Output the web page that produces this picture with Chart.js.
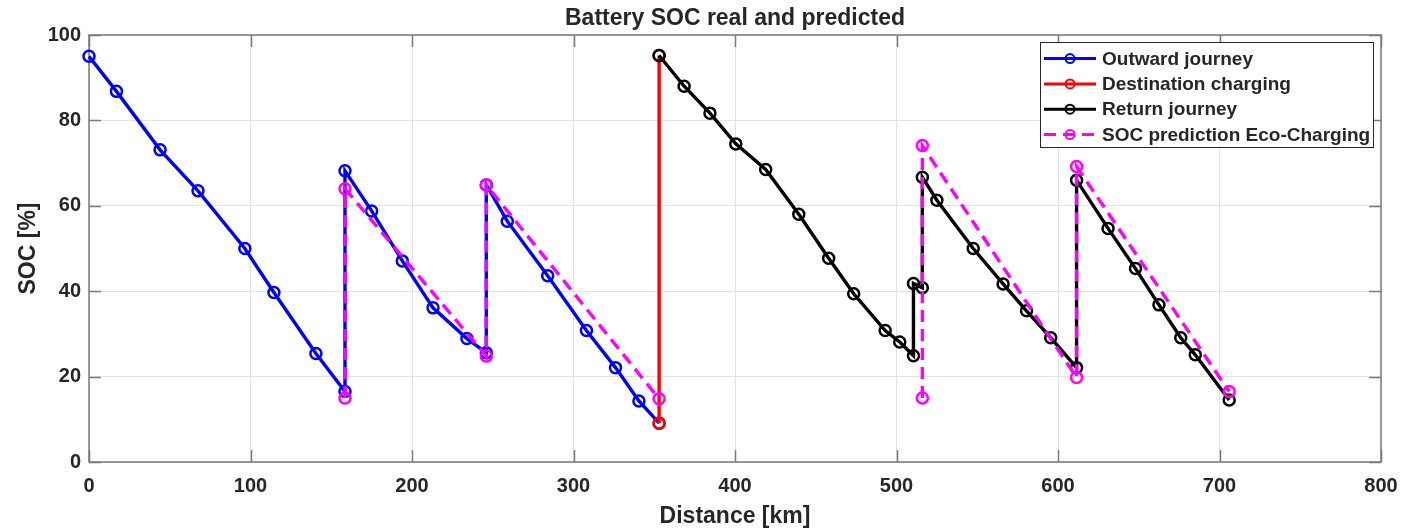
<!DOCTYPE html>
<html>
<head>
<meta charset="utf-8">
<script src="https://cdn.jsdelivr.net/npm/chart.js@4.4.1/dist/chart.umd.min.js"></script>
<style>
  html, body { margin: 0; padding: 0; background: #ffffff; }
  #wrap { width: 1427px; height: 532px; }
</style>
</head>
<body>
<div id="wrap"><canvas id="soc" width="1427" height="532"></canvas></div>
<script>
// values
const outwardKm = [0, 17, 44, 67.5, 96.5, 114.5, 140.5, 158.5, 158.5, 175, 194, 213, 234, 246, 246, 259, 284, 308, 326, 340.5, 353];
const outwardSoc = [95, 86.8, 73.1, 63.5, 50, 39.7, 25.4, 16.5, 68.2, 58.8, 47.1, 36.1, 28.9, 25.6, 64.9, 56.4, 43.6, 30.8, 22.1, 14.3, 9.1];

const chargeKm = [353, 353];
const chargeSoc = [9.1, 95.2];

const returnKm = [353, 368.5, 384.5, 400.5, 419, 439.5, 458, 473.5, 493, 502, 510.5, 510.5, 516, 516, 525, 547.5, 566, 580.5, 595.5, 611.5, 611.5, 631, 648, 662.5, 676, 685, 706];
const returnSoc = [95.2, 88, 81.7, 74.5, 68.5, 58, 47.7, 39.4, 30.8, 28.1, 24.9, 41.8, 40.8, 66.7, 61.3, 50, 41.7, 35.4, 29.1, 22.1, 66, 54.7, 45.3, 36.8, 29.1, 25.1, 14.5];

// null = break in the prediction line
const predKm = [158.5, 158.5, 246, 246, 353, null, 516, 516, 611.5, 611.5, 706];
const predSoc = [15, 64, 24.8, 64.9, 14.8, null, 15, 74.1, 19.8, 69.2, 16.5];

const seriesLabels = ['Outward journey', 'Destination charging', 'Return journey', 'SOC prediction Eco-Charging'];
const xTicks = [0, 100, 200, 300, 400, 500, 600, 700, 800];
const yTicks = [0, 20, 40, 60, 80, 100];

const FONT = "'Liberation Sans', Arial, Helvetica, sans-serif";
const TXT = '#262626';

function pts(xs, ys) {
    return xs.map((x, i) => ({ x: x, y: ys[i] }));
}

function series(label, xs, ys, color, order, dash) {
    return {
        label: label,
        data: pts(xs, ys),
        borderColor: color,
        backgroundColor: color,
        borderWidth: 3.4,
        borderDash: dash || [],
        pointRadius: 5.5,
        pointBorderWidth: 2.5,
        pointBorderColor: color,
        pointBackgroundColor: 'rgba(0,0,0,0)',
        pointStyle: 'circle',
        tension: 0,
        spanGaps: false,
        clip: false,
        order: order,
    };
}

// box round the plot with inward ticks, like the matlab axes
const boxPlugin = {
    id: 'box',
    beforeDatasetsDraw(chart) {
        const { ctx, chartArea: a, scales } = chart;
        ctx.save();
        ctx.strokeStyle = '#7a7a7a';
        ctx.lineWidth = 1.5;
        ctx.strokeRect(a.left, a.top, a.right - a.left, a.bottom - a.top);
        ctx.beginPath();
        xTicks.forEach((v) => {
            const px = Math.round(scales.x.getPixelForValue(v)) + 0.5;
            ctx.moveTo(px, a.bottom); ctx.lineTo(px, a.bottom - 12);
            ctx.moveTo(px, a.top); ctx.lineTo(px, a.top + 12);
        });
        yTicks.forEach((v) => {
            const py = Math.round(scales.y.getPixelForValue(v)) + 0.5;
            ctx.moveTo(a.left, py); ctx.lineTo(a.left + 12, py);
            ctx.moveTo(a.right, py); ctx.lineTo(a.right - 12, py);
        });
        ctx.stroke();
        ctx.restore();
    },
};

// legend with line + circle samples
const legendPlugin = {
    id: 'lineLegend',
    afterDraw(chart) {
        const { ctx, chartArea: a } = chart;
        const w = 333, h = 105;
        const left = a.right - 8 - w;
        const top = a.top + 7;
        ctx.save();
        ctx.fillStyle = '#ffffff';
        ctx.fillRect(left, top, w, h);
        ctx.strokeStyle = '#262626';
        ctx.lineWidth = 1;
        ctx.strokeRect(left + 0.5, top + 0.5, w, h);
        chart.data.datasets.forEach((ds, i) => {
            const cy = top + 16.6 + i * 25.3;
            ctx.strokeStyle = ds.borderColor;
            ctx.lineWidth = 3;
            ctx.setLineDash(ds.borderDash);
            ctx.beginPath();
            ctx.moveTo(left + 4, cy);
            ctx.lineTo(left + 56, cy);
            ctx.stroke();
            ctx.setLineDash([]);
            ctx.lineWidth = 2;
            ctx.beginPath();
            ctx.arc(left + 30, cy, 4.5, 0, Math.PI * 2);
            ctx.stroke();
            ctx.fillStyle = TXT;
            ctx.font = 'bold 19px ' + FONT;
            ctx.textBaseline = 'middle';
            ctx.textAlign = 'left';
            ctx.fillText(ds.label, left + 62, cy + 1);
        });
        ctx.restore();
    },
};

new Chart(document.getElementById('soc'), {
    type: 'line',
    data: {
        datasets: [
            series(seriesLabels[0], outwardKm, outwardSoc, '#0000ff', 3),
            series(seriesLabels[1], chargeKm, chargeSoc, '#ff0000', 2),
            series(seriesLabels[2], returnKm, returnSoc, '#000000', 1),
            series(seriesLabels[3], predKm, predSoc, '#ff00ff', 0, [12, 7]),
        ],
    },
    plugins: [boxPlugin, legendPlugin],
    options: {
        responsive: false,
        animation: false,
        events: [],
        layout: {
            padding: { left: 0, right: 46, top: 0, bottom: 0 },
        },
        plugins: {
            legend: { display: false },
            tooltip: { enabled: false },
            title: {
                display: true,
                fullSize: false,
                text: 'Battery SOC real and predicted',
                color: TXT,
                font: { family: FONT, size: 23, weight: 'bold' },
                padding: { top: 5, bottom: 2.4 },
            },
        },
        scales: {
            x: {
                type: 'linear',
                min: 0,
                max: 800,
                afterFit: (s) => { s.height = 70; },
                afterBuildTicks: (s) => { s.ticks = xTicks.map((v) => ({ value: v })); },
                ticks: {
                    color: TXT,
                    padding: 12,
                    maxRotation: 0,
                    font: { family: FONT, size: 20, weight: 'bold' },
                },
                grid: { color: '#e3e3e3', lineWidth: 1, drawTicks: false },
                border: { display: false },
                title: {
                    display: true,
                    text: 'Distance [km]',
                    color: TXT,
                    font: { family: FONT, size: 23, weight: 'bold' },
                    padding: { top: 0, bottom: 2 },
                },
            },
            y: {
                type: 'linear',
                min: 0,
                max: 100,
                afterFit: (s) => { s.width = 89; },
                afterBuildTicks: (s) => { s.ticks = yTicks.map((v) => ({ value: v })); },
                ticks: {
                    color: TXT,
                    padding: 8,
                    font: { family: FONT, size: 20, weight: 'bold' },
                },
                grid: { color: '#e3e3e3', lineWidth: 1, drawTicks: false },
                border: { display: false },
                title: {
                    display: true,
                    text: 'SOC [%]',
                    color: TXT,
                    font: { family: FONT, size: 23, weight: 'bold' },
                    padding: { top: 15, bottom: 0 },
                },
            },
        },
    },
});
</script>
</body>
</html>
